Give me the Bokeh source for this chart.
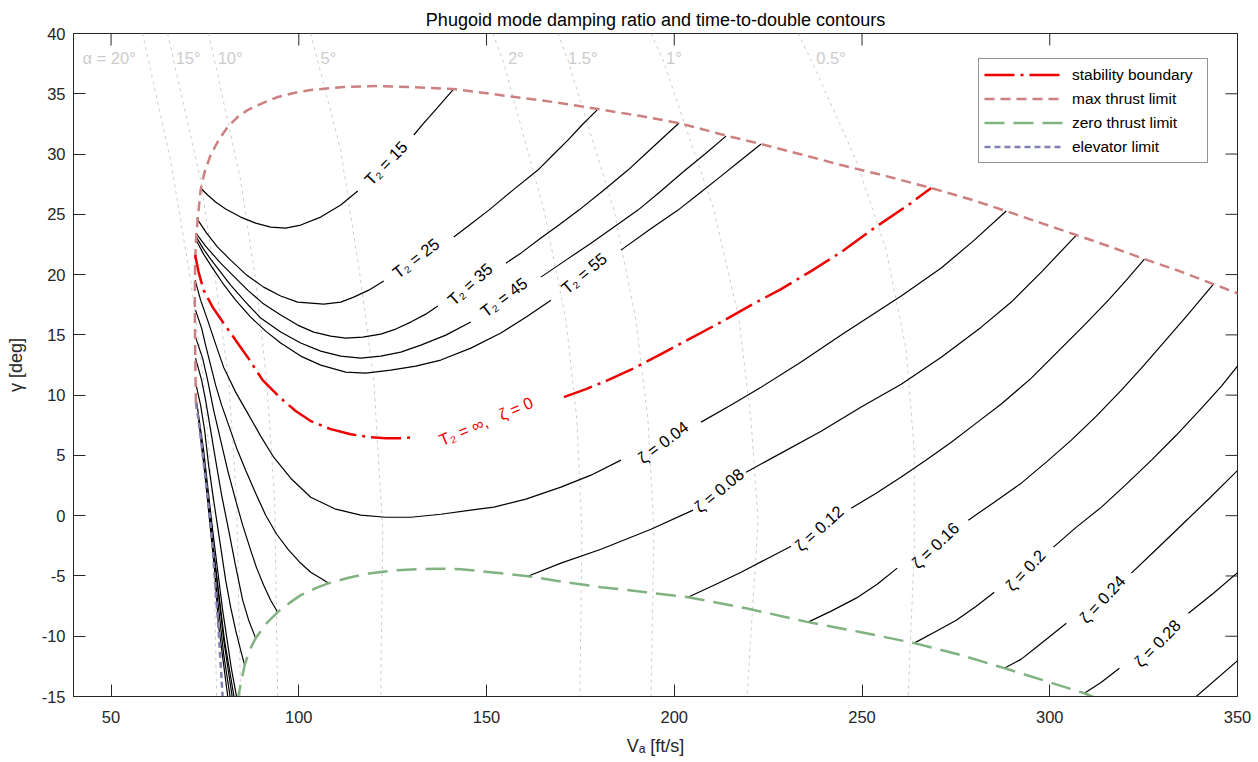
from bokeh.plotting import figure
from bokeh.models import Range1d, FixedTicker, Legend, LegendItem
from bokeh.core.properties import value
from bokeh.embed import file_html
from bokeh.resources import INLINE

FONT = "Liberation Sans"
TITLE = "Phugoid mode damping ratio and time-to-double contours"
X_LABEL = "Vₐ [ft/s]"
Y_LABEL = "γ [deg]"
X_RANGE = (40, 350)
Y_RANGE = (-15, 40)
X_TICKS = [50, 100, 150, 200, 250, 300, 350]
X_TICK_LABELS = ["50", "100", "150", "200", "250", "300", "350"]
Y_TICKS = [-15, -10, -5, 0, 5, 10, 15, 20, 25, 30, 35, 40]
Y_TICK_LABELS = ["-15", "-10", "-5", "0", "5", "10", "15", "20", "25", "30", "35", "40"]

# ---- flight envelope limits (V [ft/s], gamma [deg]) ----
MAX_THRUST_V = [72.6, 72.4, 72.3, 72.4, 72.7, 73.32, 73.85, 74.92, 76.52, 78.65, 81.05, 83.71,
                86.38, 90.38, 94.38, 98.65, 103.17, 111.97, 121.03, 129.83, 141.29, 155.68,
                167.68, 179.67, 191.13, 201.26, 214.32, 223.12, 236.45, 244.44, 256.44, 268.43,
                278.56, 288.42, 297.76, 307.09, 316.41, 325.21, 334.54, 343.6, 350.53]
MAX_THRUST_G = [9.34, 13.73, 17.88, 21.2, 23.28, 25.35, 27.01, 28.51, 29.92, 31.16, 32.24, 33.07,
                33.65, 34.23, 34.73, 35.06, 35.31, 35.56, 35.64, 35.56, 35.39, 34.81,
                34.32, 33.73, 33.15, 32.57, 31.49, 30.83, 29.75, 29.09, 28.17, 27.18,
                26.27, 25.27, 24.27, 23.28, 22.28, 21.29, 20.29, 19.21, 18.38]
ZERO_THRUST_V = [83.45, 84.78, 85.58, 86.91, 88.51, 91.18, 94.38, 97.84, 100.51, 104.51, 107.97,
                 113.83, 119.17, 125.83, 132.49, 137.83, 143.15, 151.15, 161.01, 171.14, 180.47,
                 192.47, 203.66, 219.13, 235.65, 249.78, 263.9, 276.43, 287.89, 299.08, 309.21,
                 313.74]
ZERO_THRUST_G = [-15.67, -13.59, -12.4, -11.16, -10.16, -9.0, -8.0, -7.17, -6.59, -6.01, -5.6,
                 -5.11, -4.77, -4.52, -4.44, -4.4, -4.44, -4.69, -5.02, -5.52, -5.93,
                 -6.35, -6.76, -7.68, -8.83, -9.67, -10.57, -11.57, -12.65, -13.73, -14.73,
                 -15.31]
ELEVATOR_V = [72.6, 73.3, 74.12, 75.2, 76.25, 77.05, 77.85, 78.65, 79.72]
ELEVATOR_G = [9.34, 7.92, 5.85, 2.94, 0.04, -2.61, -6.18, -9.5, -15.06]

# ---- stability boundary (T2 = inf, zeta = 0), two pieces around its label ----
STAB_V = [[72.4, 73.32, 74.65, 77.05, 79.98, 83.18, 86.38, 90.38, 95.18, 99.17, 103.17, 108.5,
           113.83, 118.63, 123.16, 127.16, 130.36],
          [170.61, 176.47, 182.34, 189.27, 196.46, 204.46, 212.46, 220.45, 228.45, 236.45,
           244.44, 253.24, 262.3, 268.43]]
STAB_G = [[21.62, 20.21, 18.71, 17.3, 15.97, 14.56, 13.15, 11.24, 9.75, 8.68, 7.85, 7.18,
           6.76, 6.51, 6.43, 6.43, 6.51],
          [9.83, 10.5, 11.24, 12.24, 13.4, 14.73, 16.06, 17.47, 18.8, 20.29,
           21.87, 23.86, 25.77, 27.18]]

# ---- time-to-double contours (pieces split by their labels) ----
T2_15_V = [[73.85, 75.72, 77.85, 80.52, 84.51, 88.51, 92.51, 96.51, 100.51, 105.84, 111.17, 115.7],
           [130.63, 133.29, 137.29, 141.29]]
T2_15_G = [[27.18, 26.6, 26.02, 25.44, 24.77, 24.27, 23.94, 23.86, 24.11, 24.77, 25.77, 26.93],
           [31.58, 32.57, 33.98, 35.4]]
T2_25_V = [[72.8, 75.45, 78.38, 81.85, 86.11, 90.64, 95.18, 99.71, 106.64, 111.17, 114.63, 118.63,
            122.63],
           [141.29, 145.82, 150.62, 157.02, 163.68, 167.68, 171.68, 175.68, 179.67]]
T2_25_G = [[24.69, 23.44, 22.28, 21.2, 19.96, 18.96, 18.22, 17.72, 17.55, 17.72, 18.13, 18.71,
            19.46],
           [23.11, 24.19, 25.35, 27.01, 28.67, 29.92, 31.16, 32.49, 33.73]]
T2_35_V = [[72.6, 75.18, 79.18, 83.18, 86.38, 90.38, 95.18, 99.71, 103.97, 108.5, 112.5, 117.03,
            121.83, 125.83, 129.83, 133.82, 137.02],
           [155.15, 159.15, 164.48, 169.28, 174.61, 181.27, 187.67, 194.33, 201.26]]
T2_35_G = [[23.44, 22.36, 20.95, 19.71, 18.71, 17.63, 16.64, 15.81, 15.23, 14.9, 14.73, 14.81,
            15.06, 15.48, 16.06, 16.72, 17.39],
           [20.95, 21.78, 23.03, 24.11, 25.35, 27.01, 28.67, 30.58, 32.57]]
T2_45_V = [[72.55, 74.65, 76.52, 79.18, 81.85, 85.85, 89.85, 95.18, 100.51, 105.84, 111.17, 116.5,
            121.83, 127.16, 132.49, 139.16, 145.82],
           [164.48, 171.14, 177.81, 183.94, 190.33, 196.46, 202.33, 208.19, 213.79]]
T2_45_G = [[23.19, 22.11, 21.28, 20.21, 19.13, 17.72, 16.39, 15.23, 14.32, 13.65, 13.24, 13.07,
            13.24, 13.57, 14.15, 14.98, 16.06],
           [19.79, 21.2, 22.61, 23.94, 25.35, 26.93, 28.51, 30.0, 31.49]]
T2_55_V = [[72.5, 74.65, 77.05, 79.72, 83.18, 87.18, 91.18, 95.18, 100.51, 105.84, 112.5, 117.83,
            124.5, 131.16, 137.83, 145.82, 153.82, 160.48, 167.15],
           [185.8, 193.27, 201.0, 207.13, 212.46, 217.79, 223.12]]
T2_55_G = [[22.95, 21.7, 20.54, 19.3, 17.88, 16.47, 15.31, 14.32, 13.24, 12.49, 11.91, 11.83,
            12.08, 12.41, 12.91, 13.9, 15.15, 16.47, 17.88],
           [22.03, 23.69, 25.35, 26.85, 28.17, 29.5, 30.83]]

# ---- damping-ratio contours (pieces split by labels / envelope) ----
Z04_V = [[72.4, 73.85, 75.72, 77.85, 79.98, 83.18, 86.38, 89.85, 93.31, 97.84, 103.17, 109.84,
          116.5, 123.16, 129.83, 137.82, 145.82, 151.95, 160.48, 169.81, 177.81, 185.8],
         [207.13, 215.13, 223.12, 233.78, 244.44, 252.44, 260.44, 271.1, 279.9, 288.42]]
Z04_G = [[19.54, 17.88, 16.22, 14.23, 12.32, 10.25, 8.51, 6.6, 4.85, 3.11, 1.53, 0.54,
          0.04, -0.13, -0.13, 0.12, 0.46, 0.71, 1.37, 2.37, 3.36, 4.61],
         [7.76, 9.18, 10.66, 12.74, 14.98, 16.6, 18.22, 20.54, 22.86, 25.27]]
Z08_V = [[72.5, 74.12, 75.18, 76.52, 77.85, 79.45, 81.32, 83.45, 85.85, 88.51, 91.18, 94.11,
          97.31, 100.24, 103.17, 105.84, 107.97],
         [161.01, 169.81, 180.47, 193.8, 205.0],
         [219.13, 228.45, 239.11, 249.78, 260.44, 271.1, 281.76, 289.76, 297.76, 307.09]]
Z08_G = [[17.05, 15.56, 14.15, 12.49, 10.83, 9.17, 7.51, 5.6, 3.77, 1.87, 0.04, -1.54,
          -2.86, -3.86, -4.69, -5.19, -5.6],
         [-5.02, -3.94, -2.78, -1.12, 0.46],
         [3.61, 5.19, 7.01, 9.01, 10.91, 13.15, 15.64, 17.72, 20.21, 23.28]]
Z12_V = [[72.5, 74.38, 75.72, 77.32, 79.18, 81.05, 83.18, 85.05, 87.18, 88.78, 90.65, 92.51, 94.38],
         [203.66, 211.12, 217.79, 224.45, 231.12],
         [247.11, 253.77, 260.44, 267.1, 273.77, 280.43, 287.09, 295.09, 302.55, 309.21, 315.62,
          320.41, 325.21]]
Z12_G = [[14.81, 13.07, 11.24, 8.76, 6.27, 3.77, 1.29, -0.78, -2.86, -4.35, -5.77, -7.01, -8.01],
         [-6.76, -5.69, -4.69, -3.61, -2.53],
         [0.62, 1.87, 3.2, 4.61, 6.1, 7.68, 9.26, 11.41, 13.73, 15.81, 17.88, 19.54, 21.29]]
Z16_V = [[72.5, 74.12, 75.18, 76.52, 77.85, 79.45, 81.32, 83.18, 85.05, 86.65, 88.51],
         [235.65, 241.78, 248.44, 254.04, 259.37],
         [278.3, 285.22, 292.42, 299.08, 305.75, 312.41, 319.08, 324.41, 329.74, 336.67, 343.6]]
Z16_G = [[13.07, 11.24, 9.59, 7.1, 4.61, 1.7, -1.2, -4.19, -7.01, -8.67, -10.16],
         [-8.83, -7.92, -6.84, -5.69, -4.35],
         [-0.37, 1.12, 2.7, 4.44, 6.27, 8.26, 10.42, 12.24, 14.15, 16.64, 19.21]]
Z20_V = [[72.55, 73.85, 74.92, 75.98, 77.32, 78.92, 80.52, 81.85, 83.18, 84.51, 85.58],
         [263.9, 269.77, 275.1, 280.43, 285.22],
         [300.97, 307.09, 313.77, 320.41, 327.1, 333.74, 340.43, 345.73, 350.5]]
Z20_G = [[11.0, 9.17, 7.1, 4.19, 1.29, -2.03, -5.35, -7.59, -9.5, -11.16, -12.4],
         [-10.57, -9.58, -8.67, -7.51, -6.35],
         [-2.61, -0.95, 0.71, 2.62, 4.61, 6.69, 8.92, 10.75, 12.6]]
Z24_V = [[72.6, 74.65, 77.05, 79.72, 82.12, 83.45],
         [287.89, 292.42, 296.42, 300.42, 304.41],
         [321.74, 328.41, 335.07, 342.54, 350.5]]
Z24_G = [[9.83, 5.44, -1.2, -7.84, -12.82, -15.06],
         [-12.65, -11.9, -10.91, -9.92, -8.92],
         [-4.77, -2.78, -0.79, 1.45, 3.9]]
Z28_V = [[73.32, 75.3, 77.6, 80.2, 82.9],
         [309.21, 313.74, 318.55],
         [336.94, 343.6, 350.5]]
Z28_G = [[7.92, 2.9, -3.7, -10.3, -15.3],
         [-14.73, -13.82, -12.65],
         [-8.09, -6.43, -4.6]]
Z32_V = [[73.95, 75.8, 77.9, 80.0, 82.4], [337.9, 350.5]]
Z32_G = [[6.27, 1.3, -4.5, -10.3, -15.3], [-15.3, -11.9]]
Z36_V = [[74.9, 76.5, 78.4, 80.0, 81.85]]
Z36_G = [[3.77, -1.2, -7.0, -11.5, -15.3]]
Z40_V = [[76.0, 77.4, 78.6, 81.2]]
Z40_G = [[0.87, -3.7, -9.0, -15.3]]

# ---- contour labels ----
CONTOUR_LABELS = ["T₂ = 15", "T₂ = 25", "T₂ = 35", "T₂ = 45", "T₂ = 55",
                  "ζ = 0.04", "ζ = 0.08", "ζ = 0.12", "ζ = 0.16", "ζ = 0.2", "ζ = 0.24", "ζ = 0.28"]
LABEL_V = [123.16, 131.16, 145.55, 154.62, 175.94, 197.0, 211.92, 238.58, 269.5, 293.49, 314.02, 328.68]
LABEL_G = [29.25, 21.37, 19.21, 18.13, 20.12, 6.10, 2.12, -1.04, -2.45, -4.52, -6.93, -10.58]
LABEL_ANGLE = [46, 38, 42, 37, 40, 37, 40, 42, 44, 47, 47, 46]
STAB_LABEL = ["T₂ = ∞,\u00a0\u00a0 ζ = 0"]
STAB_LABEL_V = [149.82]
STAB_LABEL_G = [7.84]
STAB_LABEL_ANGLE = [23]

# ---- angle-of-attack reference lines ----
A20_V = [58.39, 65.86, 71.19, 74.65, 77.05, 78.12]
A20_G = [40, 29.5, 19.54, 11.24, 1.29, -15]
A15_V = [65.06, 73.85, 77.85, 81.32, 83.45, 84.51]
A15_G = [40, 27.84, 19.54, 11.24, 1.29, -15]
A10_V = [75.98, 84.51, 88.51, 91.45, 93.58, 94.38]
A10_G = [40, 27.84, 19.54, 11.24, 1.29, -15]
A5_V = [103.17, 111.17, 116.5, 119.97, 122.36, 121.83]
A5_G = [40, 30.33, 19.54, 11.24, -1.2, -15]
A2_V = [151.68, 154.35, 165.28, 171.14, 174.07, 175.41, 174.87]
A2_G = [40, 37.8, 25.35, 16.22, 7.93, -1.2, -15]
A1_5_V = [169.01, 171.68, 183.94, 189.8, 193.0, 194.6, 193.8]
A1_5_G = [40, 37.8, 25.35, 16.22, 7.93, -1.2, -15]
A1_V = [193.8, 197.0, 210.59, 217.26, 220.45, 222.32, 219.39]
A1_G = [40, 37.8, 25.35, 16.22, 7.93, -0.37, -15]
A05_V = [232.98, 236.45, 248.44, 256.44, 261.77, 263.9, 263.9, 262.3]
A05_G = [40, 37.8, 29.5, 22.03, 13.73, 5.44, -2.86, -15]
ALPHA_LABELS = ["α = 20°", "15°", "10°", "5°", "2°", "1.5°", "1°", "0.5°"]
ALPHA_LABEL_V = [42.4, 67.2, 78.4, 105.8, 155.7, 171.7, 197.8, 237.8]
ALPHA_LABEL_G = [38.0, 38.0, 38.0, 38.0, 38.0, 38.0, 38.0, 38.0]

AX_COLOR = "#262626"
RED = "#ee0000"
ROSE = "#cc8080"
GREEN = "#80b380"
BLUE = "#8080b3"
GRAY = "#cccccc"

FRAME_W, FRAME_H = 1164, 663
TICK_PX = 12

p = figure(frame_width=FRAME_W, frame_height=FRAME_H,
           x_range=Range1d(*X_RANGE), y_range=Range1d(*Y_RANGE),
           output_backend="svg", toolbar_location=None,
           min_border_left=73, min_border_right=21, min_border_top=33, min_border_bottom=66,
           background_fill_color="white", border_fill_color="white")

p.grid.visible = False
p.outline_line_color = AX_COLOR
p.outline_line_width = 1

p.title.text = TITLE
p.title.align = "center"
p.title.text_font = FONT
p.title.text_font_size = "18px"
p.title.text_font_style = "normal"
p.title.text_color = "black"
p.title.standoff = 7

xa = p.xaxis[0]
ya = p.yaxis[0]
xa.ticker = FixedTicker(ticks=X_TICKS)
ya.ticker = FixedTicker(ticks=Y_TICKS)
xa.major_label_overrides = {t: s for t, s in zip(X_TICKS, X_TICK_LABELS)}
ya.major_label_overrides = {t: s for t, s in zip(Y_TICKS, Y_TICK_LABELS)}
xa.axis_label = X_LABEL
ya.axis_label = Y_LABEL
xa.major_label_standoff = 14
ya.major_label_standoff = 8
xa.axis_label_standoff = 10
ya.axis_label_standoff = 13
for ax in [xa, ya]:
    ax.major_tick_in = TICK_PX
    ax.major_tick_out = 0
    ax.minor_tick_line_color = None
    ax.axis_line_color = AX_COLOR
    ax.major_tick_line_color = AX_COLOR
    ax.major_label_text_color = AX_COLOR
    ax.major_label_text_font = FONT
    ax.major_label_text_font_size = "16.5px"
    ax.axis_label_text_font = FONT
    ax.axis_label_text_font_size = "18px"
    ax.axis_label_text_font_style = "normal"
    ax.axis_label_text_color = AX_COLOR

# mirrored ticks on the top and right edges of the box
dy = TICK_PX * (Y_RANGE[1] - Y_RANGE[0]) / FRAME_H
dx = TICK_PX * (X_RANGE[1] - X_RANGE[0]) / FRAME_W
p.segment(x0=X_TICKS, y0=[Y_RANGE[1]] * len(X_TICKS), x1=X_TICKS,
          y1=[Y_RANGE[1] - dy] * len(X_TICKS), line_color=AX_COLOR, line_width=1)
p.segment(x0=[X_RANGE[1]] * len(Y_TICKS), y0=Y_TICKS, x1=[X_RANGE[1] - dx] * len(Y_TICKS),
          y1=Y_TICKS, line_color=AX_COLOR, line_width=1)

# alpha reference lines
alpha_lines = [(A20_V, A20_G), (A15_V, A15_G), (A10_V, A10_G), (A5_V, A5_G),
               (A2_V, A2_G), (A1_5_V, A1_5_G), (A1_V, A1_G), (A05_V, A05_G)]
p.multi_line(xs=[a[0] for a in alpha_lines], ys=[a[1] for a in alpha_lines],
             line_color=GRAY, line_width=1, line_dash="3 4")
p.text(x=ALPHA_LABEL_V, y=ALPHA_LABEL_G, text=ALPHA_LABELS, text_align="left",
       text_baseline="middle", text_font=value(FONT), text_font_size="16.5px", text_color=GRAY)

# contours
contours = [(T2_15_V, T2_15_G), (T2_25_V, T2_25_G), (T2_35_V, T2_35_G), (T2_45_V, T2_45_G),
            (T2_55_V, T2_55_G), (Z04_V, Z04_G), (Z08_V, Z08_G), (Z12_V, Z12_G), (Z16_V, Z16_G),
            (Z20_V, Z20_G), (Z24_V, Z24_G), (Z28_V, Z28_G), (Z32_V, Z32_G), (Z36_V, Z36_G),
            (Z40_V, Z40_G)]
xs, ys = [], []
for cv, cg in contours:
    xs.extend(cv)
    ys.extend(cg)
p.multi_line(xs=xs, ys=ys, line_color="black", line_width=1.2, line_join="round")

# limits
r_zero = p.line(ZERO_THRUST_V, ZERO_THRUST_G, line_color=GREEN, line_width=2.5, line_dash="20 9")
r_elev = p.line(ELEVATOR_V, ELEVATOR_G, line_color=BLUE, line_width=2.5, line_dash="6 4")
r_max = p.line(MAX_THRUST_V, MAX_THRUST_G, line_color=ROSE, line_width=2.5, line_dash="10 6")
r_stab = p.multi_line(xs=STAB_V, ys=STAB_G, line_color=RED, line_width=2.5, line_dash="30 6 3 6")

# labels
p.text(x=LABEL_V, y=LABEL_G, text=CONTOUR_LABELS, angle=LABEL_ANGLE, angle_units="deg",
       text_align="center", text_baseline="middle", text_font=value(FONT),
       text_font_size="16.5px", text_color="black")
p.text(x=STAB_LABEL_V, y=STAB_LABEL_G, text=STAB_LABEL, angle=STAB_LABEL_ANGLE, angle_units="deg",
       text_align="center", text_baseline="middle", text_font=value(FONT),
       text_font_size="16.5px", text_color=RED)

legend = Legend(items=[LegendItem(label="stability boundary", renderers=[r_stab]),
                       LegendItem(label="max thrust limit", renderers=[r_max]),
                       LegendItem(label="zero thrust limit", renderers=[r_zero]),
                       LegendItem(label="elevator limit", renderers=[r_elev])],
                location=(905, 533), orientation="vertical",
                background_fill_color="white", background_fill_alpha=1.0,
                border_line_color=AX_COLOR, border_line_width=1,
                label_text_font=FONT, label_text_font_size="15.5px", label_text_color="black",
                glyph_width=79, glyph_height=21, label_height=21, label_width=130,
                label_standoff=9, padding=5, spacing=3, margin=0)
p.add_layout(legend)

open("out.html", "w").write(file_html(p, INLINE))
